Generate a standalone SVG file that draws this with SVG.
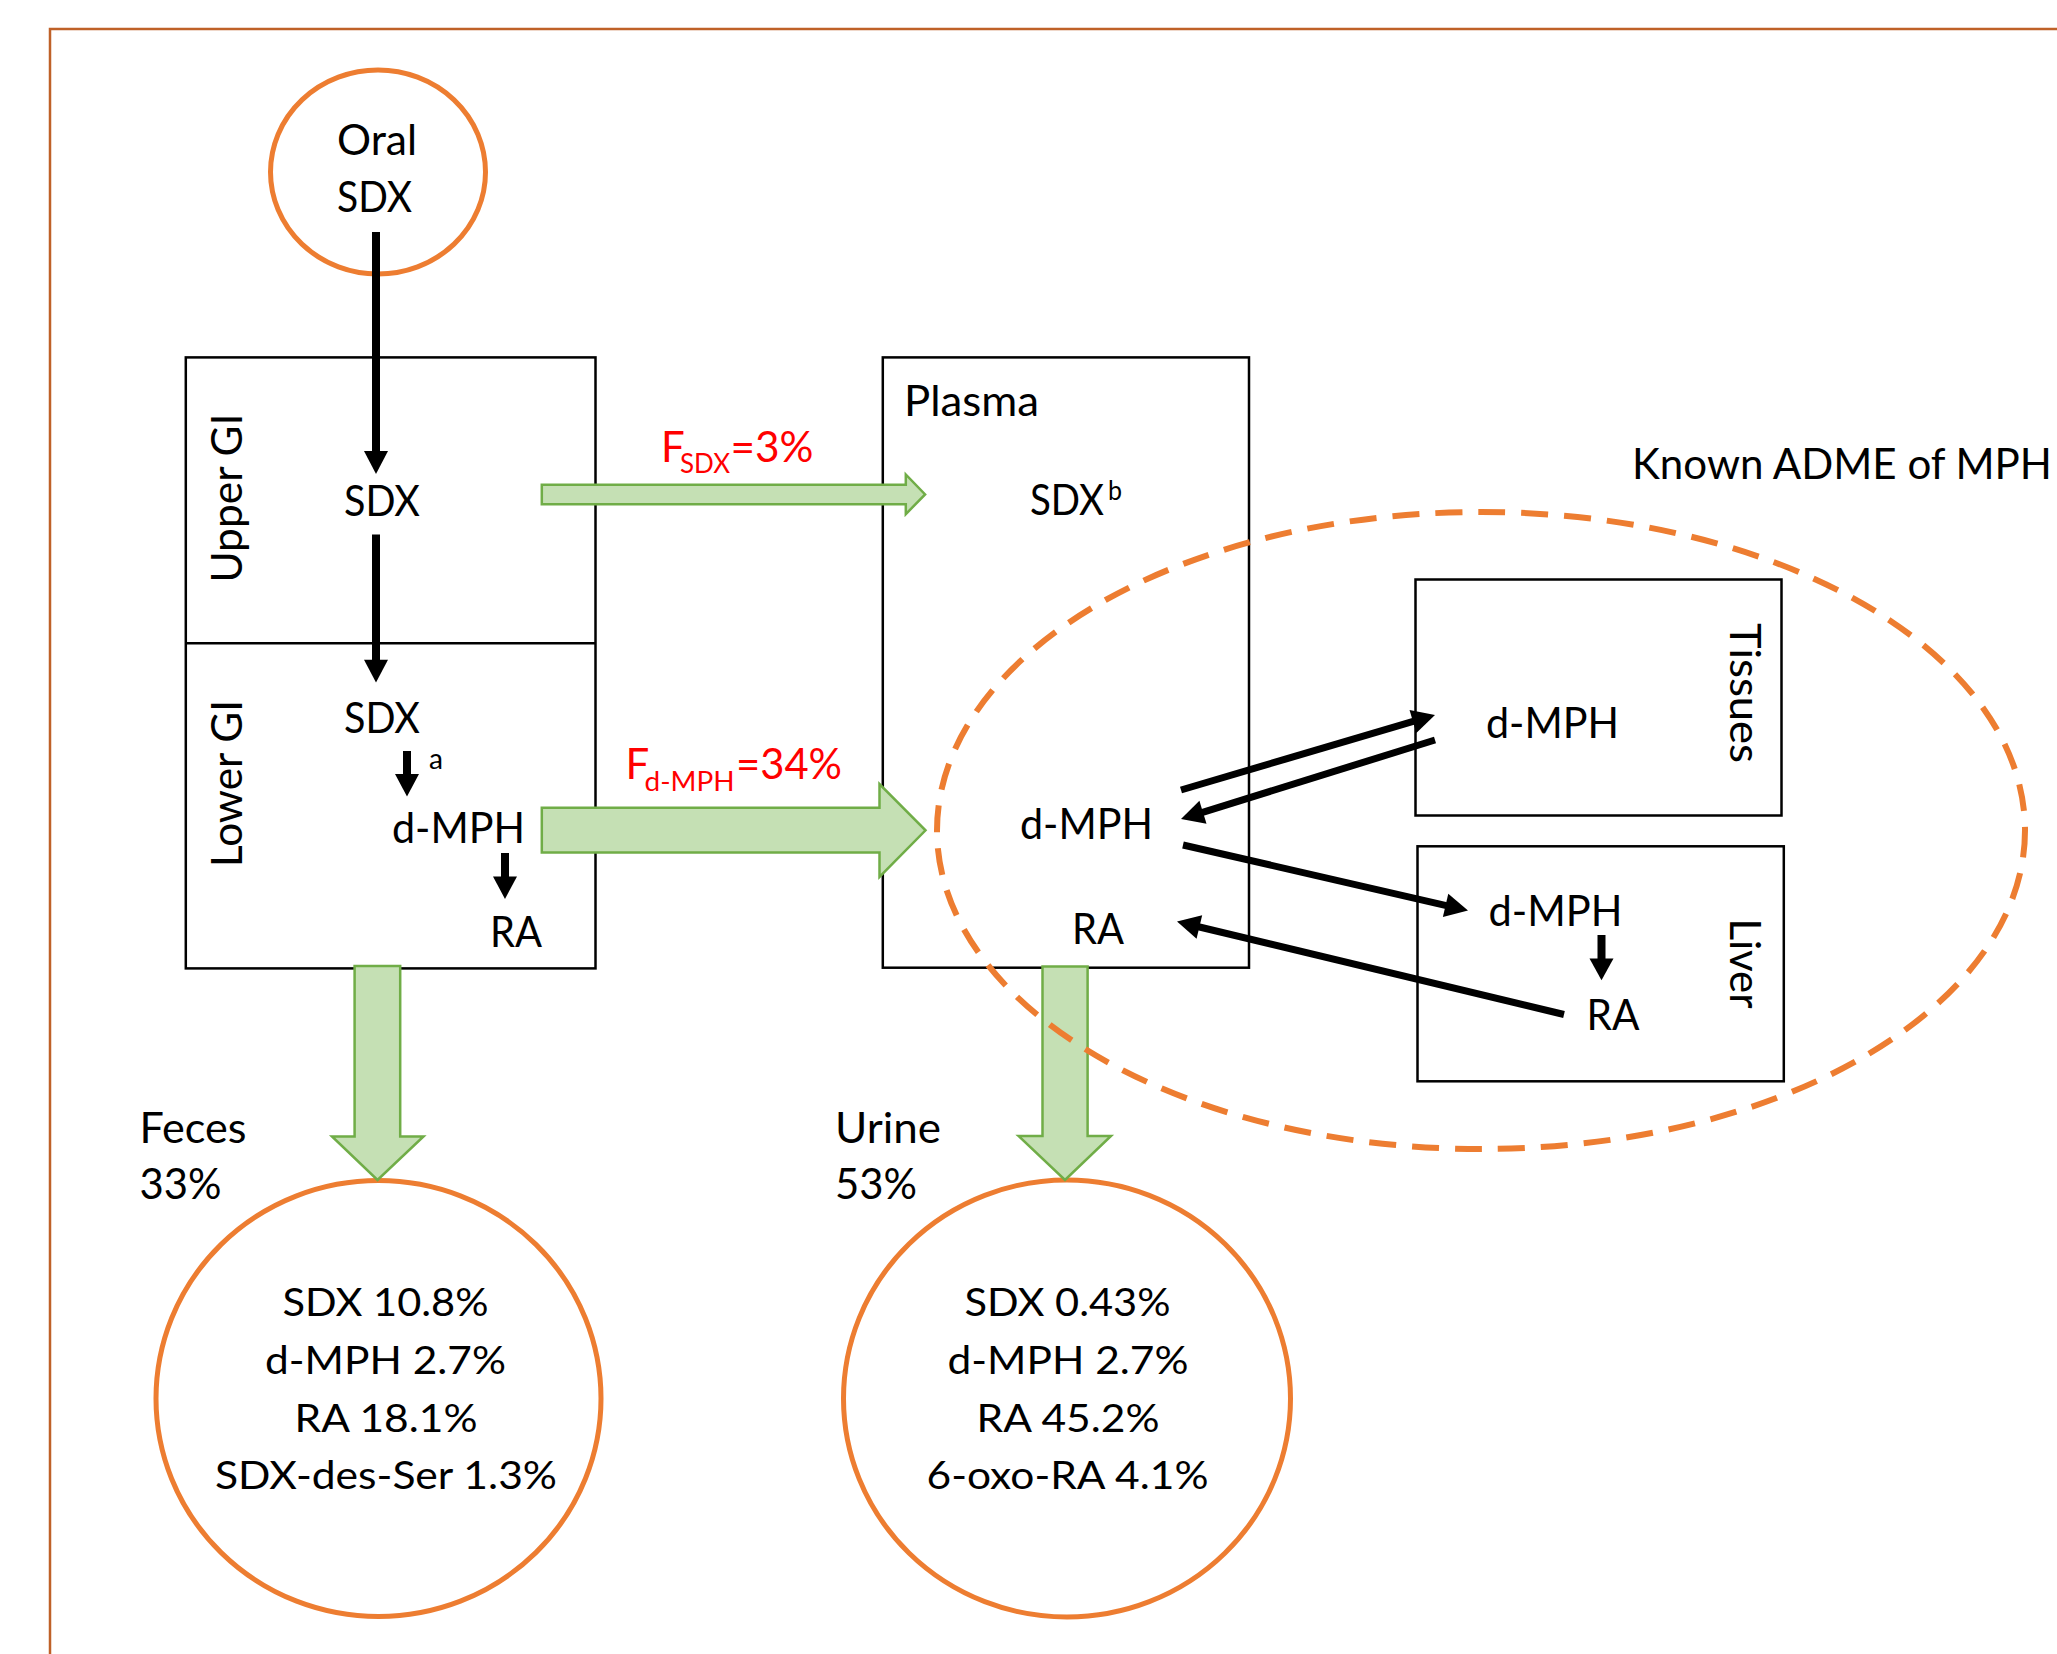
<svg xmlns="http://www.w3.org/2000/svg" width="2057" height="1654" viewBox="0 0 2057 1654">
<style>
text{font-family:Lato,"Liberation Sans",sans-serif;font-size:42px;fill:#000}
.red{fill:#FF0000}
.sub{font-size:27px}
.small{font-size:29px}
.res{font-size:39px}
.box{fill:none;stroke:#000;stroke-width:2.5}
.oc{fill:none;stroke:#ED7D31;stroke-width:5}
.garrow{fill:#C5E0B4;stroke:#70AD47;stroke-width:2.5;stroke-linejoin:miter}
.bl{stroke:#000;stroke-width:8;fill:none}
.bd{stroke:#000;stroke-width:7;fill:none}
.hd{fill:#000;stroke:none}
</style>
<rect width="2057" height="1654" fill="#fff"/>
<rect id="frame" x="50" y="29" width="2100" height="1750" fill="none" stroke="#BF6128" stroke-width="2.5"/>

<g id="oral">
<ellipse class="oc" cx="378" cy="172" rx="107.5" ry="102"/>
<text x="337" y="155" textLength="80" lengthAdjust="spacingAndGlyphs">Oral</text>
<text x="337" y="212" textLength="75" lengthAdjust="spacingAndGlyphs">SDX</text>
</g>

<g id="gi">
<rect class="box" x="185.8" y="357.4" width="409.7" height="611"/>
<line class="box" x1="185.8" y1="643.2" x2="595.5" y2="643.2"/>
<text transform="translate(242,582.5) rotate(-90)" textLength="169" lengthAdjust="spacingAndGlyphs">Upper GI</text>
<text transform="translate(242,867) rotate(-90)" textLength="167" lengthAdjust="spacingAndGlyphs">Lower GI</text>
<text x="344" y="516" textLength="76" lengthAdjust="spacingAndGlyphs">SDX</text>
<text x="344" y="733" textLength="76" lengthAdjust="spacingAndGlyphs">SDX</text>
<text class="small" x="429" y="769" textLength="14" lengthAdjust="spacingAndGlyphs">a</text>
<text x="392" y="843" textLength="133" lengthAdjust="spacingAndGlyphs">d-MPH</text>
<text x="490" y="947" textLength="52" lengthAdjust="spacingAndGlyphs">RA</text>
</g>

<g id="plasma">
<rect class="box" x="882.8" y="357.4" width="366.2" height="610.3"/>
<text x="904" y="416" textLength="135" lengthAdjust="spacingAndGlyphs">Plasma</text>
<text x="1030" y="515" textLength="74" lengthAdjust="spacingAndGlyphs">SDX</text>
<text class="sub" x="1108" y="500" textLength="14" lengthAdjust="spacingAndGlyphs">b</text>
<text x="1020" y="839" textLength="133" lengthAdjust="spacingAndGlyphs">d-MPH</text>
<text x="1072" y="943.6" textLength="52" lengthAdjust="spacingAndGlyphs">RA</text>
</g>

<g id="tissues">
<rect class="box" x="1415.5" y="579.5" width="366" height="236"/>
<text x="1486" y="737.6" textLength="133" lengthAdjust="spacingAndGlyphs">d-MPH</text>
<text transform="translate(1730,623) rotate(90)" textLength="140" lengthAdjust="spacingAndGlyphs">Tissues</text>
</g>

<g id="liver">
<rect class="box" x="1417.5" y="846.3" width="366.3" height="235"/>
<text x="1488.5" y="926.3" textLength="134" lengthAdjust="spacingAndGlyphs">d-MPH</text>
<text x="1586.5" y="1030" textLength="53" lengthAdjust="spacingAndGlyphs">RA</text>
<text transform="translate(1730,918.5) rotate(90)" textLength="90" lengthAdjust="spacingAndGlyphs">Liver</text>
</g>

<g id="flow-labels">
<text class="red" x="661" y="461.5" font-size="40">F</text>
<text class="red sub" x="680" y="473" textLength="50" lengthAdjust="spacingAndGlyphs">SDX</text>
<text class="red" x="730.5" y="461.5" textLength="83" lengthAdjust="spacingAndGlyphs">=3%</text>
<text class="red" x="625.5" y="779" font-size="40">F</text>
<text class="red sub" x="644.5" y="791" textLength="90" lengthAdjust="spacingAndGlyphs">d-MPH</text>
<text class="red" x="736" y="779" textLength="106" lengthAdjust="spacingAndGlyphs">=34%</text>
</g>

<g id="feces">
<text x="139.5" y="1143" textLength="107" lengthAdjust="spacingAndGlyphs">Feces</text>
<text x="139.5" y="1199" textLength="82" lengthAdjust="spacingAndGlyphs">33%</text>
<ellipse class="oc" cx="378.5" cy="1398.5" rx="222.5" ry="218"/>
<text class="res" x="282.5" y="1316" textLength="206" lengthAdjust="spacingAndGlyphs">SDX 10.8%</text>
<text class="res" x="265" y="1374" textLength="241" lengthAdjust="spacingAndGlyphs">d-MPH 2.7%</text>
<text class="res" x="294.5" y="1432" textLength="183" lengthAdjust="spacingAndGlyphs">RA 18.1%</text>
<text class="res" x="215" y="1489" textLength="342" lengthAdjust="spacingAndGlyphs">SDX-des-Ser 1.3%</text>
</g>

<g id="urine">
<text x="835" y="1143" textLength="106" lengthAdjust="spacingAndGlyphs">Urine</text>
<text x="835" y="1199" textLength="82" lengthAdjust="spacingAndGlyphs">53%</text>
<ellipse class="oc" cx="1067" cy="1398.5" rx="223.5" ry="218.5"/>
<text class="res" x="964.5" y="1316" textLength="206" lengthAdjust="spacingAndGlyphs">SDX 0.43%</text>
<text class="res" x="947.5" y="1374" textLength="241" lengthAdjust="spacingAndGlyphs">d-MPH 2.7%</text>
<text class="res" x="976.5" y="1432" textLength="183" lengthAdjust="spacingAndGlyphs">RA 45.2%</text>
<text class="res" x="926.5" y="1489" textLength="282" lengthAdjust="spacingAndGlyphs">6-oxo-RA 4.1%</text>
</g>

<g id="connectors">
<polygon class="garrow" points="541.8,484.7 905.8,484.7 905.8,474.5 925.1,494.5 905.8,514.1 905.8,504.3 541.8,504.3"/>
<polygon class="garrow" points="541.8,807.7 879.5,807.7 879.5,784 925.5,830.3 879.5,877 879.5,852.6 541.8,852.6"/>
<polygon class="garrow" points="354.6,966 400.2,966 400.2,1136.5 423.5,1136.5 377.5,1180 332,1136.5 354.6,1136.5"/>
<polygon class="garrow" points="1042.5,966.5 1087.6,966.5 1087.6,1136 1111,1136 1065,1180 1018.5,1136 1042.5,1136"/>

<line class="bl" x1="376" y1="232" x2="376" y2="455"/>
<polygon class="hd" points="364,451 388,451 376,474"/>
<line class="bl" x1="376" y1="534.5" x2="376" y2="663"/>
<polygon class="hd" points="364,659.7 388,659.7 376,682.5"/>
<line class="bl" x1="407" y1="751" x2="407" y2="777"/>
<polygon class="hd" points="395,774 419,774 407,796.5"/>
<line class="bl" x1="505" y1="853" x2="505" y2="880"/>
<polygon class="hd" points="493,876.4 517,876.4 505,899"/>
<line class="bl" x1="1601.5" y1="935" x2="1601.5" y2="962"/>
<polygon class="hd" points="1589.5,958.6 1613.5,958.6 1601.5,980.3"/>

<line class="bd" x1="1181" y1="790" x2="1414.9" y2="720.9"/>
<polygon class="hd" points="1416.34,733.02 1409.54,710.0 1435,715"/>
<line class="bd" x1="1435" y1="740" x2="1201" y2="812.8"/>
<polygon class="hd" points="1199.40,800.71 1206.52,823.63 1181,819"/>
<line class="bd" x1="1183" y1="845" x2="1447.5" y2="905.8"/>
<polygon class="hd" points="1442.89,917.05 1448.27,893.65 1468,910.5"/>
<line class="bd" x1="1564" y1="1014.5" x2="1197.4" y2="926.5"/>
<polygon class="hd" points="1202.17,915.30 1196.57,938.64 1177,921.6"/>
</g>

<g id="known-adme">
<ellipse cx="1481" cy="830.5" rx="544" ry="318.5" fill="none" stroke="#ED7D31" stroke-width="6" stroke-dasharray="27 16"/>
<text x="1632" y="479" textLength="420" lengthAdjust="spacingAndGlyphs">Known ADME of MPH</text>
</g>
</svg>
